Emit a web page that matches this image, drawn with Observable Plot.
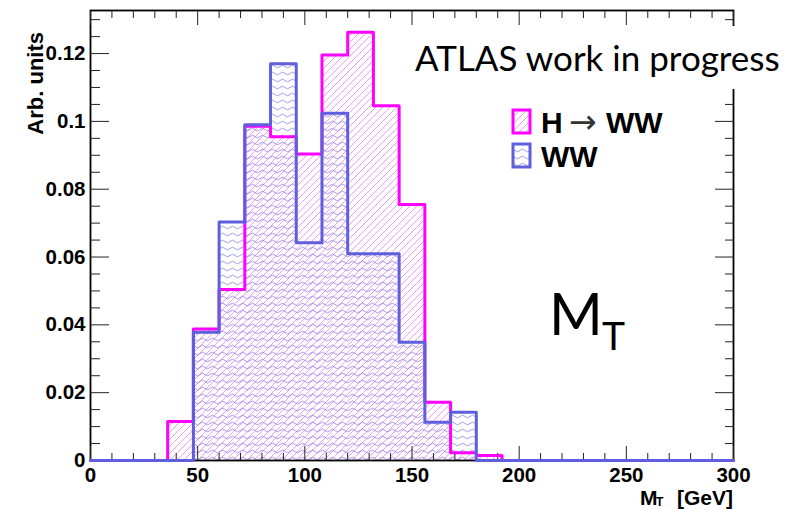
<!DOCTYPE html>
<html><head><meta charset="utf-8">
<script src="https://cdn.jsdelivr.net/npm/d3@7"></script>
<script src="https://cdn.jsdelivr.net/npm/@observablehq/plot@0.6"></script>
<style>
body{margin:0;background:#fff;}
#wrap{position:relative;width:792px;height:510px;overflow:hidden;background:#fff;}
</style></head><body><div id="wrap"></div>
<script>
// ---- data ----
const binEdges = [0,12,24,36,48,60,72,84,96,108,120,132,144,156,168,180,192,204,216,228,240,252,264,276,288,300];
const hwwValues = [0,0,0,0.0115,0.0388,0.0504,0.0986,0.0955,0.0904,0.1196,0.1263,0.1046,0.0755,0.0172,0.0023,0.0015,0,0,0,0,0,0,0,0,0];
const wwValues  = [0,0,0,0,0.0378,0.0703,0.0990,0.1170,0.0642,0.1024,0.0610,0.0610,0.0349,0.0113,0.0142,0,0,0,0,0,0,0,0,0,0];
const xMajorTicks = [0,50,100,150,200,250,300];
const xTickLabels = ["0","50","100","150","200","250","300"];
const xMinorTicks = [10,20,30,40,60,70,80,90,110,120,130,140,160,170,180,190,210,220,230,240,260,270,280,290];
const yMajorTicks = [0,0.02,0.04,0.06,0.08,0.1,0.12];
const yTickLabels = ["0","0.02","0.04","0.06","0.08","0.1","0.12"];
const yMinorTicks = [0.005,0.01,0.015,0.025,0.03,0.035,0.045,0.05,0.055,0.065,0.07,0.075,0.085,0.09,0.095,0.105,0.11,0.115,0.125,0.13];
const seriesNames = ["H \u2192 WW","WW"];

const MAG = "#ff00ff", BLU = "#5f5fdd";

const bins = wwValues.map((v,i)=>({x1: binEdges[i], x2: binEdges[i+1], hww: hwwValues[i], ww: wwValues[i]}));
const hwwPts = binEdges.map((x,i)=>({x, y: i < hwwValues.length ? hwwValues[i] : 0}));
const wwPts  = binEdges.map((x,i)=>({x, y: i < wwValues.length ? wwValues[i] : 0}));

const tickFont = {fontSize: 20.5, fontWeight: "bold"};

const chart = Plot.plot({
  width: 792, height: 510,
  marginLeft: 90, marginRight: 59, marginTop: 10, marginBottom: 50,
  x: {domain: [0,300]},
  y: {domain: [0,0.1327]},
  style: {fontFamily: "'Liberation Sans', Arial, sans-serif", background: "white", color: "black"},
  marks: [
    Plot.rectY(bins, {x1: "x1", x2: "x2", y: "hww", fill: "url(#hatchMag)"}),
    Plot.rectY(bins, {x1: "x1", x2: "x2", y: "ww", fill: "url(#hatchBlue)"}),
    Plot.frame({stroke: "black", strokeWidth: 1.8}),
    // inward ticks
    Plot.axisY(yMajorTicks, {anchor: "left", tickSize: -19, fill: "none", stroke: "#222"}),
    Plot.axisY(yMinorTicks, {anchor: "left", tickSize: -10, fill: "none", stroke: "#222"}),
    Plot.axisY(yMajorTicks, {anchor: "right", tickSize: -19, fill: "none", stroke: "#222"}),
    Plot.axisY(yMinorTicks, {anchor: "right", tickSize: -9, fill: "none", stroke: "#222"}),
    Plot.axisX(xMajorTicks, {anchor: "top", tickSize: -14, fill: "none", stroke: "#222"}),
    Plot.axisX(xMinorTicks, {anchor: "top", tickSize: -7, fill: "none", stroke: "#222"}),
    Plot.axisX(xMajorTicks, {anchor: "bottom", tickSize: -14, fill: "none", stroke: "#222"}),
    Plot.axisX(xMinorTicks, {anchor: "bottom", tickSize: -7, fill: "none", stroke: "#222"}),
    // labels
    Plot.axisY(yMajorTicks, {anchor: "left", tickSize: 0, tickPadding: 5, label: null, ...tickFont,
      tickFormat: d => yTickLabels[yMajorTicks.indexOf(d)]}),
    Plot.axisX(xMajorTicks, {anchor: "bottom", tickSize: 0, tickPadding: 7, label: null, ...tickFont,
      tickFormat: d => xTickLabels[xMajorTicks.indexOf(d)]}),
    // histogram outlines
    Plot.lineY(hwwPts, {x: "x", y: "y", curve: "step-after", stroke: MAG, strokeWidth: 3}),
    Plot.lineY(wwPts, {x: "x", y: "y", curve: "step-after", stroke: BLU, strokeWidth: 3})
  ]
});

const svg = d3.select(chart);
svg.insert("defs", ":first-child").html(`
  <pattern id="hatchMag" patternUnits="userSpaceOnUse" width="7" height="7">
    <path d="M-1,1 L1,-1 M0,7 L7,0 M6,8 L8,6" stroke="${MAG}" stroke-opacity="0.4" stroke-width="1" fill="none"/>
  </pattern>
  <pattern id="hatchBlue" patternUnits="userSpaceOnUse" width="10" height="7">
    <path d="M0,3.5 Q2.5,0.8 5,3.5 T10,3.5" stroke="#6a6ae0" stroke-opacity="0.65" stroke-width="1" fill="none"/>
  </pattern>`);

const ann = svg.append("g").attr("text-anchor", "start");
// ATLAS label box
ann.append("rect").attr("x", 405).attr("y", 26).attr("width", 387).attr("height", 63).attr("fill", "white");
ann.append("text").attr("x", 415).attr("y", 71).attr("font-family", "Lato, 'Open Sans', sans-serif")
  .attr("font-size", 35).attr("fill", "black").text("ATLAS work in progress");
// M_T annotation
ann.append("text").attr("x", 549).attr("y", 335).attr("font-family", "Lato, sans-serif").attr("font-size", 58).attr("fill", "black").text("M");
ann.append("text").attr("x", 602).attr("y", 350).attr("font-family", "Lato, sans-serif").attr("font-size", 39).attr("fill", "black").text("T");
// legend
ann.append("rect").attr("x", 513).attr("y", 110).attr("width", 17).attr("height", 23).attr("fill", "url(#hatchMag)").attr("stroke", MAG).attr("stroke-width", 3);
ann.append("rect").attr("x", 513).attr("y", 144).attr("width", 17).attr("height", 23).attr("fill", "url(#hatchBlue)").attr("stroke", BLU).attr("stroke-width", 3);
const l1 = ann.append("text").attr("y", 133).attr("font-size", 30).attr("fill", "black")
  .attr("font-family", "'Liberation Sans', Arial, sans-serif");
l1.append("tspan").attr("x", 541).attr("font-weight", "bold").text("H");
l1.append("tspan").attr("x", 569).attr("font-weight", "normal").attr("font-family", "'DejaVu Sans', sans-serif")
  .attr("font-size", 33).attr("fill", "#333").text("\u2192");
l1.append("tspan").attr("x", 606).attr("font-weight", "bold").text("WW");
ann.append("text").attr("x", 541).attr("y", 167).attr("font-size", 30).attr("font-weight", "bold")
  .attr("font-family", "'Liberation Sans', Arial, sans-serif").attr("fill", "black").text(seriesNames[1]);
// axis titles
const xt = ann.append("g").attr("font-family", "'Liberation Sans', Arial, sans-serif").attr("font-weight", "bold").attr("fill", "black");
xt.append("text").attr("x", 733).attr("y", 505).attr("text-anchor", "end").attr("font-size", 21).text("[GeV]");
xt.append("text").attr("x", 640).attr("y", 505).attr("font-size", 21).text("M");
xt.append("text").attr("x", 656).attr("y", 506).attr("font-size", 12).text("T");
ann.append("text").attr("transform", "translate(43,32) rotate(-90)").attr("text-anchor", "end")
  .attr("font-family", "'Liberation Sans', Arial, sans-serif").attr("font-weight", "bold").attr("font-size", 22)
  .attr("fill", "black").text("Arb. units");

document.getElementById("wrap").appendChild(chart);
</script>
</body></html>
